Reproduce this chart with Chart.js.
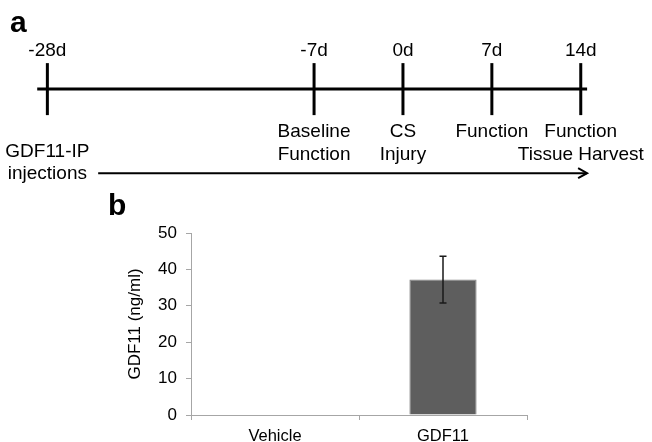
<!DOCTYPE html>
<html>
<head>
<meta charset="utf-8">
<script src="https://cdn.jsdelivr.net/npm/chart.js@4.4.0/dist/chart.umd.min.js"></script>
<style>
  html, body { margin: 0; padding: 0; background: #fff; }
  #page { position: relative; width: 652px; height: 442px; overflow: hidden; font-family: "Liberation Sans", Arial, sans-serif; }
  .panel { position: absolute; font-weight: bold; font-size: 30px; line-height: 1; color: #000; }
  #timelineBox { position: absolute; left: 0; top: 0; width: 652px; height: 190px; }
  #barBox { position: absolute; left: 0; top: 180px; width: 652px; height: 262px; }
</style>
</head>
<body>
<div id="page">
  <div id="timelineBox"><canvas id="timelineChart"></canvas></div>
  <div id="barBox"><canvas id="barChart"></canvas></div>
  <div class="panel" style="left:10px;top:7px">a</div>
  <div class="panel" style="left:108px;top:190px">b</div>
</div>
<script>
// panel a - study timeline (days relative to injury)
var timepointDays = [-28, -7, 0, 7, 14];
var timepointLabels = ['-28d', '-7d', '0d', '7d', '14d'];
var eventLabels = [[], ['Baseline', 'Function'], ['CS', 'Injury'], ['Function'], ['Function', 'Tissue Harvest']];
var timelineSpan = [-28.8, 14.5];
var injectionLabel = ['GDF11-IP', 'injections'];
var injectionDay = -28;
var injectionArrow = [-24.0, 14.5];

// panel b - serum GDF11
var groups = ['Vehicle', 'GDF11'];
var gdf11Means = [0, 37.2];
var gdf11Errors = [0, 6.4];
var yTicks = [0, 10, 20, 30, 40, 50];

Chart.defaults.font.family = '"Liberation Sans", Arial, sans-serif';
Chart.defaults.color = '#000';

var timelineText = {
    id: 'timelineText',
    afterDatasetsDraw: function (chart) {
        var ctx = chart.ctx, xs = chart.scales.x, ys = chart.scales.y;
        var y0 = ys.getPixelForValue(0);
        ctx.save();
        ctx.fillStyle = '#000';
        ctx.font = '19px "Liberation Sans", Arial, sans-serif';
        ctx.textAlign = 'center';
        ctx.textBaseline = 'middle';
        timepointDays.forEach(function (d, i) {
            var px = xs.getPixelForValue(d);
            ctx.fillText(timepointLabels[i], px, y0 - 38);
            eventLabels[i].forEach(function (line, j) {
                ctx.fillText(line, px, y0 + 43 + j * 23);
            });
        });
        var yArrow = ys.getPixelForValue(-1);
        var ix = xs.getPixelForValue(injectionDay);
        ctx.fillText(injectionLabel[0], ix, yArrow - 21);
        ctx.fillText(injectionLabel[1], ix, yArrow + 1);
        // open arrow head
        var ax = xs.getPixelForValue(injectionArrow[1]);
        ctx.strokeStyle = '#000';
        ctx.lineWidth = 2;
        ctx.beginPath();
        ctx.moveTo(ax - 9, yArrow - 5);
        ctx.lineTo(ax, yArrow);
        ctx.lineTo(ax - 9, yArrow + 5);
        ctx.stroke();
        ctx.restore();
    }
};

new Chart(document.getElementById('timelineChart'), {
    type: 'scatter',
    data: {
        datasets: [
            {
                type: 'line',
                data: timelineSpan.map(function (d) { return { x: d, y: 0 }; }),
                borderColor: '#000',
                borderWidth: 3,
                pointRadius: 0
            },
            {
                type: 'line',
                data: injectionArrow.map(function (d) { return { x: d, y: -1 }; }),
                borderColor: '#000',
                borderWidth: 2,
                pointRadius: 0
            },
            {
                data: timepointDays.map(function (d) { return { x: d, y: 0 }; }),
                pointStyle: 'line',
                pointRotation: 90,
                pointRadius: 26,
                pointBorderWidth: 3,
                pointBorderColor: '#000',
                borderColor: '#000'
            }
        ]
    },
    options: {
        responsive: true,
        maintainAspectRatio: false,
        animation: false,
        events: [],
        layout: { padding: 0, autoPadding: false },
        plugins: { legend: { display: false }, tooltip: { enabled: false } },
        scales: {
            x: { type: 'linear', display: false, min: -31.73, max: 19.61 },
            y: { display: false, min: -1.2, max: 1.06 }
        }
    },
    plugins: [timelineText]
});

var errorBars = {
    id: 'errorBars',
    afterDatasetsDraw: function (chart) {
        var meta = chart.getDatasetMeta(0), ys = chart.scales.y, ctx = chart.ctx;
        ctx.save();
        ctx.strokeStyle = '#1a1a1a';
        ctx.lineWidth = 1.5;
        meta.data.forEach(function (bar, i) {
            var err = gdf11Errors[i];
            if (!err) return;
            var cx = bar.x;
            var top = ys.getPixelForValue(gdf11Means[i] + err);
            var bot = ys.getPixelForValue(gdf11Means[i] - err);
            ctx.beginPath();
            ctx.moveTo(cx, top); ctx.lineTo(cx, bot);
            ctx.moveTo(cx - 3.5, top); ctx.lineTo(cx + 3.5, top);
            ctx.moveTo(cx - 3.5, bot); ctx.lineTo(cx + 3.5, bot);
            ctx.stroke();
        });
        ctx.restore();
    }
};

new Chart(document.getElementById('barChart'), {
    type: 'bar',
    data: {
        labels: groups,
        datasets: [{
            label: 'GDF11 (ng/ml)',
            data: gdf11Means,
            backgroundColor: '#5e5e5e',
            borderColor: '#808080',
            borderWidth: 1,
            barPercentage: 0.4,
            categoryPercentage: 1
        }]
    },
    options: {
        responsive: true,
        maintainAspectRatio: false,
        animation: false,
        events: [],
        layout: { padding: { top: 53, right: 125, bottom: 0, left: 125 } },
        plugins: { legend: { display: false }, tooltip: { enabled: false } },
        scales: {
            x: {
                grid: { drawOnChartArea: false, offset: true, color: '#a6a6a6', tickLength: 5 },
                border: { color: '#a6a6a6', width: 1 },
                ticks: { color: '#000', font: { size: 16.5 }, padding: 7 },
                afterFit: function (s) { s.height = 27; }
            },
            y: {
                min: 0,
                max: 50,
                afterBuildTicks: function (s) { s.ticks = yTicks.map(function (v) { return { value: v }; }); },
                grid: { drawOnChartArea: false, color: '#a6a6a6', tickLength: 5 },
                border: { color: '#a6a6a6', width: 1 },
                ticks: { color: '#000', font: { size: 17 }, padding: 9 },
                title: { display: true, text: 'GDF11 (ng/ml)', color: '#000', font: { size: 17 }, padding: { top: 0, bottom: 0 } },
                afterFit: function (s) { s.width = 66; }
            }
        }
    },
    plugins: [errorBars]
});
</script>
</body>
</html>
